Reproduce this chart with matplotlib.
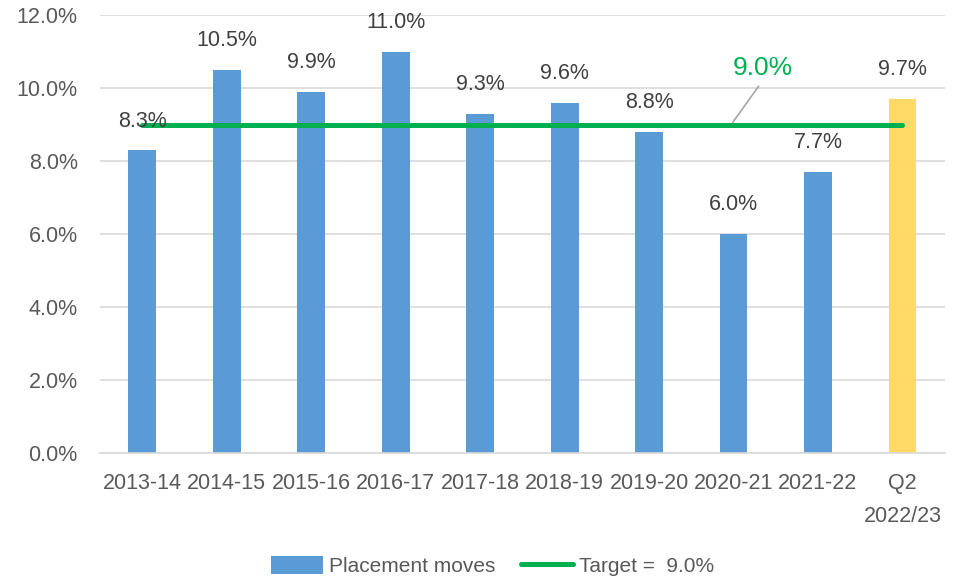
import matplotlib
matplotlib.use("Agg")
import matplotlib.pyplot as plt
from matplotlib.patches import Patch
from matplotlib.lines import Line2D
from matplotlib.ticker import FuncFormatter

categories = ["2013-14", "2014-15", "2015-16", "2016-17", "2017-18",
              "2018-19", "2019-20", "2020-21", "2021-22", "Q2\n2022/23"]
values = [8.3, 10.5, 9.9, 11.0, 9.3, 9.6, 8.8, 6.0, 7.7, 9.7]
target = 9.0
yticks = [0, 2, 4, 6, 8, 10, 12]

plt.rcParams['font.family'] = ['Liberation Sans', 'DejaVu Sans']

fig = plt.figure(figsize=(9.62, 5.81), dpi=100)
ax = fig.add_axes([0.104, 0.220, 0.878, 0.754])

x = list(range(len(categories)))
colors = ['#5B9BD5'] * (len(categories) - 1) + ['#FFD966']
ax.bar(x, values, width=0.33, color=colors, zorder=2)

ax.plot([x[0], x[-1]], [target, target], color='#00B050', lw=3.6,
        solid_capstyle='round', zorder=3)

for xi, v in zip(x, values):
    ax.annotate(f"{v:.1f}%", (xi, v), xytext=(0, 21), textcoords='offset points',
                ha='center', va='center', fontsize=15.5, color='#404040', zorder=4)

ax.annotate(f"{target:.1f}%", xy=(6.99, target + 0.06), xytext=(7.35, 10.55),
            ha='center', va='center', fontsize=19, color='#00B050',
            arrowprops=dict(arrowstyle='-', color='#A6A6A6', lw=1.2,
                            relpos=(0.5, 0.0), shrinkA=3, shrinkB=0), zorder=4)

ax.set_xlim(-0.5, len(categories) - 0.5)
ax.set_ylim(0, 12)
ax.set_yticks(yticks)
ax.yaxis.set_major_formatter(FuncFormatter(lambda v, p: f"{v:.1f}%"))
ax.set_xticks(x)
ax.set_xticklabels(categories, linespacing=1.8)
ax.tick_params(axis='both', length=0, labelsize=15.5, colors='#595959')
ax.tick_params(axis='x', pad=14)
ax.tick_params(axis='y', pad=16)
ax.grid(axis='y', color='#D9D9D9', lw=1.2, zorder=0)
ax.set_axisbelow(True)
for s in ['top', 'right', 'left']:
    ax.spines[s].set_visible(False)
ax.spines['bottom'].set_color('#D9D9D9')
ax.spines['bottom'].set_linewidth(1.2)

handles = [Patch(facecolor='#5B9BD5', label='Placement moves'),
           Line2D([0], [0], color='#00B050', lw=3.6, solid_capstyle='round',
                  label=f'Target =  {target:.1f}%')]
fig.legend(handles=handles, loc='center', bbox_to_anchor=(0.512, 0.026), ncol=2,
           frameon=False, fontsize=15, labelcolor='#595959', handlelength=2.5,
           handleheight=1.0, columnspacing=1.2, handletextpad=0.3)

fig.savefig("out.png", dpi=100)
